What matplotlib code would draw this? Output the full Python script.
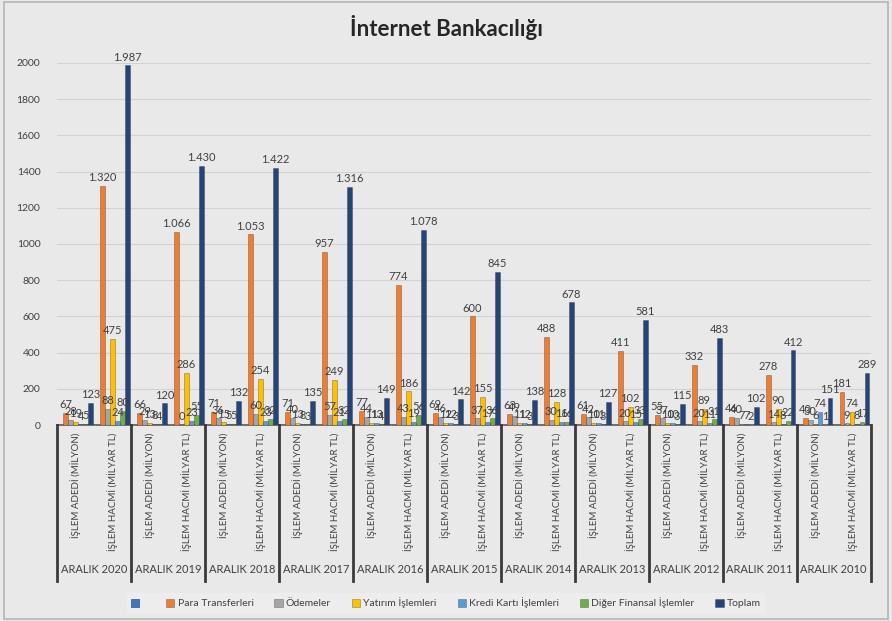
import matplotlib.pyplot as plt
from matplotlib.patches import Patch, Rectangle
from matplotlib.transforms import blended_transform_factory

plt.rcParams['font.family'] = ['Lato', 'DejaVu Sans']

years = ["ARALIK 2020", "ARALIK 2019", "ARALIK 2018", "ARALIK 2017", "ARALIK 2016", "ARALIK 2015",
         "ARALIK 2014", "ARALIK 2013", "ARALIK 2012", "ARALIK 2011", "ARALIK 2010"]
kategoriler = ["İŞLEM ADEDİ (MİLYON)", "İŞLEM HACMİ (MİLYAR TL)"]

seriler = ["Para Transferleri", "Ödemeler", "Yatırım İşlemleri", "Kredi Kartı İşlemleri",
           "Diğer Finansal İşlemler", "Toplam"]
renkler = ["#ED7D31", "#A5A5A5", "#FFC000", "#5B9BD5", "#70AD47", "#264478"]

# işlem adedi (milyon)
para_adet = [67, 66, 71, 71, 77, 69, 63, 61, 55, 46, 40]
odeme_adet = [28, 29, 36, 40, 44, 46, 49, 42, 37, 40, 30]
yatirim_adet = [19, 13, 15, 13, 11, 12, 11, 10, 10, 7, 6]
kredi_adet = [4, 8, 5, 8, 13, 12, 12, 11, 10, 7, 74]
diger_adet = [5, 4, 5, 3, 4, 3, 3, 3, 3, 2, 1]
toplam_adet = [123, 120, 132, 135, 149, 142, 138, 127, 115, 102, 151]

# işlem hacmi (milyar TL)
para_hacim = [1320, 1066, 1053, 957, 774, 600, 488, 411, 332, 278, 181]
odeme_hacim = [88, 0, 60, 57, 43, 37, 30, 20, 20, 14, 9]
yatirim_hacim = [475, 286, 254, 249, 186, 155, 128, 102, 89, 90, 74]
kredi_hacim = [24, 23, 23, 21, 19, 17, 16, 15, 11, 8, 8]
diger_hacim = [80, 55, 32, 32, 56, 36, 16, 33, 31, 22, 17]
toplam_hacim = [1987, 1430, 1422, 1316, 1078, 845, 678, 581, 483, 412, 289]

adet = [para_adet, odeme_adet, yatirim_adet, kredi_adet, diger_adet, toplam_adet]
hacim = [para_hacim, odeme_hacim, yatirim_hacim, kredi_hacim, diger_hacim, toplam_hacim]


def fmt(v):
    return f"{v:,}".replace(",", ".")


fig = plt.figure(figsize=(8.92, 6.21), dpi=100, facecolor="#e9e9e9")
fig.patches.append(Rectangle((0.004, 0.004), 0.992, 0.992, transform=fig.transFigure,
                             fill=False, edgecolor="#b5b5b5", linewidth=1.2))
ax = fig.add_axes([0.064, 0.3156, 0.912, 0.583])
ax.set_facecolor("none")

n_cat = len(years) * 2
genislik = 0.135
# 7 seri yeri var, ilki (boş seri) çizilmiyor
for k, ad in enumerate(seriler):
    xs, ys = [], []
    for i in range(len(years)):
        xs += [2 * i, 2 * i + 1]
        ys += [adet[k][i], hacim[k][i]]
    xs = [x + (k + 1 - 3) * genislik for x in xs]
    ax.bar(xs, ys, width=genislik * 0.95, color=renkler[k], edgecolor="#00000040",
           linewidth=0.7, zorder=3)
    for x, y in zip(xs, ys):
        ax.annotate(fmt(y), (x, y), xytext=(0, 2), textcoords="offset points",
                    ha="center", va="bottom", fontsize=8, color="#404040", zorder=4)

ax.set_ylim(0, 2000)
ax.set_xlim(-0.5, n_cat - 0.5)
ax.set_yticks(range(0, 2001, 200))
ax.tick_params(axis="y", length=0, labelsize=7.5, labelcolor="#404040", pad=12)
ax.grid(axis="y", color="#d2d2d2", linewidth=0.8, zorder=0)
for s in ["top", "right", "left"]:
    ax.spines[s].set_visible(False)
ax.spines["bottom"].set_color("#595959")
ax.spines["bottom"].set_linewidth(1.2)
ax.set_xticks([])

# çok seviyeli x ekseni
tr = blended_transform_factory(ax.transData, ax.transAxes)
for i in range(len(years)):
    for j, kat in enumerate(kategoriler):
        ax.text(2 * i + j, -0.022, kat, rotation=90, ha="center", va="top",
                fontsize=7, color="#404040", transform=tr)
    ax.text(2 * i + 0.5, -0.40, years[i], ha="center", va="center",
            fontsize=8, color="#404040", transform=tr)
for b in range(len(years) + 1):
    ax.plot([2 * b - 0.5, 2 * b - 0.5], [0, -0.43], color="#3a3a3a", linewidth=2,
            transform=tr, clip_on=False, zorder=5)

handles = [Patch(facecolor="#4472C4", edgecolor="#2f5597", linewidth=0.5)]
handles += [Patch(facecolor=c, edgecolor="#00000055", linewidth=0.5) for c in renkler]
labels = [" "] + seriler
leg = fig.legend(handles, labels, loc="center", bbox_to_anchor=(0.5, 1 - 603 / 621),
                 ncol=7, frameon=True, fontsize=7.5, handlelength=0.8, handleheight=0.8,
                 handletextpad=0.3, columnspacing=2.0, borderpad=0.4)
leg.get_frame().set_facecolor("#efefef")
leg.get_frame().set_edgecolor("none")
for t in leg.get_texts():
    t.set_color("#404040")

fig.text(0.5, 1 - 28 / 621, "İnternet Bankacılığı", ha="center", va="center",
         fontsize=16, fontweight="bold", color="#262626")

fig.savefig("out.png", dpi=100, facecolor=fig.get_facecolor())
